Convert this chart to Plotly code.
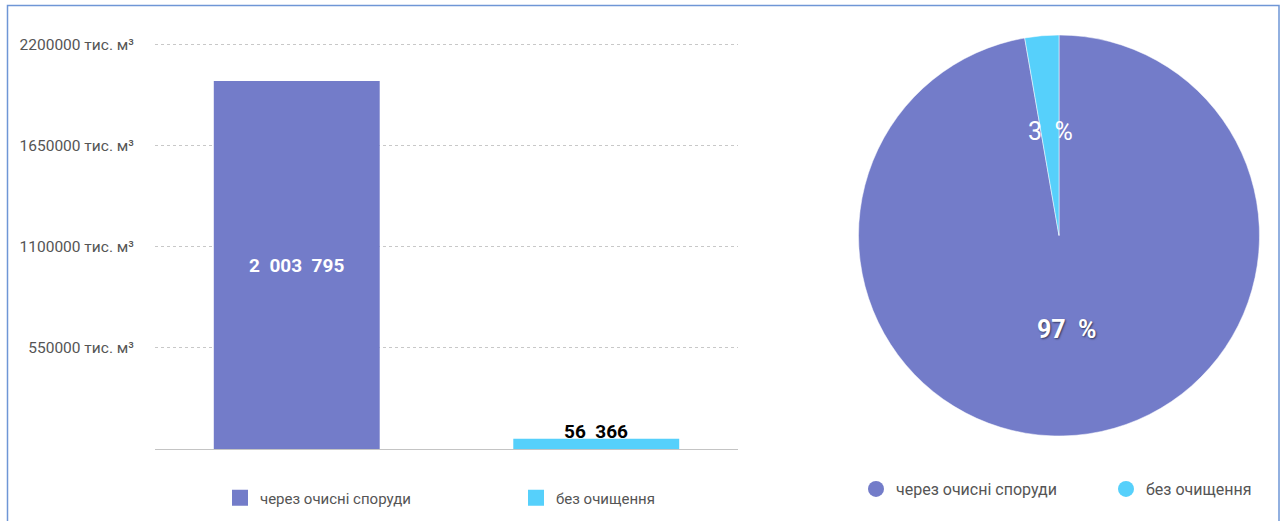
import math
import plotly.graph_objects as go

# Скидання зворотних вод, тис. м³
categories = ["через очисні споруди", "без очищення"]
volumes = [2003795, 56366]
colors = ["#737cc9", "#56d0fb"]
y_ticks = [550000, 1100000, 1650000, 2200000]
y_tick_labels = [f"{v} тис. м³" for v in y_ticks]

W, H = 1283, 521
FONT = "Roboto, Arial, sans-serif"
NB = "\u00a0"


def fx(px):
    return px / W


def fy(py):
    return 1 - py / H


def fmt_thousands(v):
    return f"{v:,}".replace(",", NB * 2)


total = sum(volumes)
shares = [round(v / total * 100) for v in volumes]

fig = go.Figure()

# --- стовпчикова діаграма ---
fig.add_trace(go.Bar(
    x=categories,
    y=volumes,
    width=0.554,
    marker=dict(color=colors, line=dict(width=0)),
    text=[fmt_thousands(volumes[0]), ""],
    textposition="inside",
    insidetextanchor="middle",
    textfont=dict(family=FONT, size=19, color="white", weight="bold"),
    showlegend=False,
    hoverinfo="x+y",
))

fig.add_annotation(
    x=categories[1], y=volumes[1], xref="x", yref="y",
    text=fmt_thousands(volumes[1]), showarrow=False,
    xanchor="center", yanchor="bottom", yshift=-6,
    font=dict(family=FONT, size=19, color="black", weight="bold"),
)

# --- кругова діаграма ---
cx, cy, R = 1059, 235.5, 200.5
fig.add_trace(go.Pie(
    labels=categories,
    values=volumes,
    sort=False,
    direction="clockwise",
    rotation=0,
    marker=dict(colors=colors, line=dict(color="white", width=0.5)),
    textinfo="none",
    showlegend=False,
    domain=dict(x=[fx(cx - 210), fx(cx + 210)], y=[fy(cy + R), fy(cy - R)]),
))

cum = 0
for v, s in zip(volumes, shares):
    theta = math.radians((cum + v / 2) / total * 360)
    cum += v
    big = s >= 50
    r = (0.47 if big else 0.52) * R
    px_ = cx + r * math.sin(theta)
    py_ = cy - r * math.cos(theta)
    fig.add_annotation(
        x=fx(px_), y=fy(py_), xref="paper", yref="paper",
        xanchor="center", yanchor="middle",
        text=f"{s}{NB}{NB}%", showarrow=False,
        font=dict(family=FONT, size=25, color="white",
                  weight="bold" if big else "normal",
                  shadow="1px 1px 2px rgba(0,0,0,0.55)" if big else "none"),
    )

# --- легенди ---
legend_specs = [
    ("legend", "square", 16, 0, 240, 498, 15),
    ("legend2", "square", 16, 1, 536, 498, 15),
    ("legend3", "circle", 17, 0, 876, 489, 16),
    ("legend4", "circle", 17, 1, 1126, 489, 16),
]
legend_layout = {}
for name, symbol, size, i, sx, sy, fsize in legend_specs:
    fig.add_trace(go.Scatter(
        x=[None], y=[None], mode="markers",
        marker=dict(symbol=symbol, size=size, color=colors[i]),
        name=categories[i], legend=name, showlegend=True, hoverinfo="skip",
    ))
    legend_layout[name] = dict(
        x=fx(sx - 20), xanchor="left", y=fy(sy), yanchor="middle",
        orientation="h", bgcolor="rgba(0,0,0,0)", borderwidth=0,
        font=dict(family=FONT, size=fsize, color="#555555"),
    )

# вісь Y: 2200000 на 45 px, 0 на 449 px; запас зверху, щоб верхня сітка була видимою
y_top = 2220000
top_px = 449 - 404 * y_top / 2200000

fig.update_layout(
    width=W, height=H,
    margin=dict(l=0, r=0, t=0, b=0),
    paper_bgcolor="white",
    plot_bgcolor="white",
    template="none",
    xaxis=dict(
        domain=[fx(155), fx(738)],
        type="category",
        range=[-0.4733, 1.4733],
        showticklabels=False,
        showgrid=False,
        showline=True,
        linecolor="#c4c4c4",
        linewidth=1,
        ticks="",
        zeroline=False,
        fixedrange=True,
    ),
    yaxis=dict(
        domain=[fy(449), fy(top_px)],
        range=[0, y_top],
        tickvals=y_ticks,
        ticktext=y_tick_labels,
        tickfont=dict(family=FONT, size=15.5, color="#555555"),
        ticks="",
        ticklabelstandoff=20,
        showgrid=True,
        gridcolor="#c8c8c8",
        griddash="dot",
        gridwidth=1,
        zeroline=False,
        showline=False,
        fixedrange=True,
    ),
    shapes=[dict(
        type="rect", xref="paper", yref="paper",
        x0=fx(7.5), x1=fx(1279), y0=-0.2, y1=fy(5.5),
        line=dict(color="#6f96d6", width=1.5),
        fillcolor="rgba(0,0,0,0)", layer="above",
    )],
    **legend_layout,
)

fig.write_html("out.html")
